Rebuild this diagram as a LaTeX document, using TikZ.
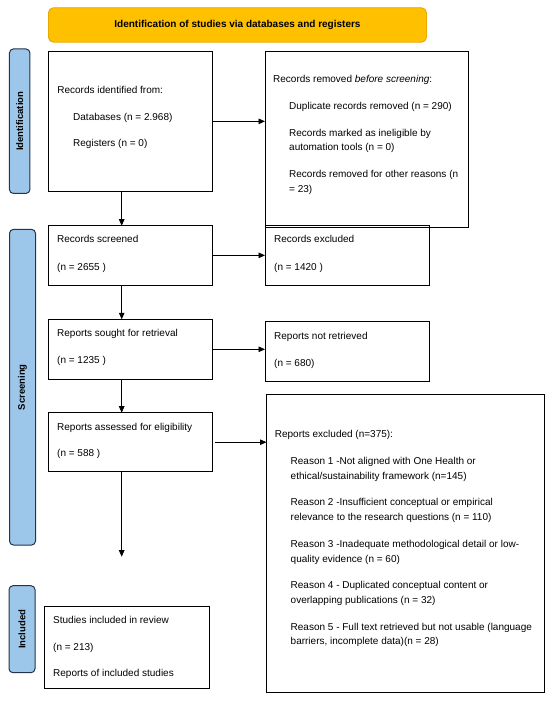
\documentclass[tikz,border=0pt]{standalone}
\usepackage{fontspec}
\setmainfont{Liberation Sans}
\usetikzlibrary{arrows.meta}
\definecolor{bannerfill}{HTML}{FFC000}
\definecolor{bannerdraw}{HTML}{E8A900}
\definecolor{sidefill}{HTML}{9CC7EA}
\definecolor{sidedraw}{HTML}{25344A}
\begin{document}
\begin{tikzpicture}[x=1pt,y=-1pt,
  box/.style={draw=black, line width=0.9pt, anchor=north west, inner sep=0pt, outer sep=0pt},
  txt/.style={anchor=base west, inner sep=0pt, align=left, font=\fontsize{10}{14.7}\selectfont},
  arr/.style={-{Triangle[length=6.5pt,width=5.5pt]}, line width=0.8pt},
  side/.style={draw=sidedraw, fill=sidefill, rounded corners=4pt, line width=1pt, rotate=90, inner sep=0pt, font=\bfseries\fontsize{9.5}{11}\selectfont}]
\useasboundingbox (0,0) rectangle (550,701);
\fill[white] (0,0) rectangle (550,701);

% banner
\node[draw=bannerdraw, fill=bannerfill, rounded corners=5pt, line width=0.9pt, anchor=north west, minimum width=378pt, minimum height=34.5pt, inner sep=0pt, font=\bfseries\fontsize{10}{12}\selectfont] (banner) at (48,7.3) {Identification of studies via databases and registers};

% side labels
\node[side, minimum width=144.5pt, minimum height=20.5pt] (sideid) at (19.7,121.2) {Identification};
\node[side, minimum width=315.7pt, minimum height=26pt] (sidescr) at (22.5,387.2) {Screening};
\node[side, minimum width=87pt, minimum height=26pt] (sideinc) at (22,629.2) {Included};

% boxes
\node[box, minimum width=164.7pt, minimum height=140.7pt] (idbox) at (48,51) {};
\node[box, minimum width=203pt, minimum height=175.5pt] (removed) at (265,51.5) {};
\node[box, minimum width=164.7pt, minimum height=59.3pt] (screened) at (48,225.7) {};
\node[box, minimum width=164pt, minimum height=59.3pt] (excluded) at (265,225.7) {};
\node[box, minimum width=164.7pt, minimum height=60pt] (sought) at (48,319.3) {};
\node[box, minimum width=164pt, minimum height=59.3pt] (notretr) at (265,321.7) {};
\node[box, minimum width=164.7pt, minimum height=59pt] (assessed) at (48,412.7) {};
\node[box, minimum width=277.5pt, minimum height=298pt] (repexcl) at (266.5,394) {};
\node[box, minimum width=165pt, minimum height=82pt] (studies) at (44,606.7) {};

% texts (multi-line nodes are placed by the baseline of their last line)
\node[txt] (t1) at (57.2,93.5) {Records identified from:};
\node[txt] (t2) at (73,120.2) {Databases (n = 2.968)};
\node[txt] (t3) at (73,146.5) {Registers (n = 0)};
\node[txt] (t4) at (273,82.5) {Records removed \textit{before screening}:};
\node[txt] (t5) at (289,109.5) {Duplicate records removed (n = 290)};
\node[txt] (t6) at (289,150.9) {Records marked as ineligible by\\automation tools (n = 0)};
\node[txt] (t7) at (289,192.2) {Records removed for other reasons (n\\= 23)};
\node[txt] (t8) at (57,242.5) {Records screened};
\node[txt] (t9) at (57,270.2) {(n = 2655 )};
\node[txt] (t10) at (274,242.5) {Records excluded};
\node[txt] (t11) at (274,270.5) {(n = 1420 )};
\node[txt] (t12) at (57,336.8) {Reports sought for retrieval};
\node[txt] (t13) at (57,363.5) {(n = 1235 )};
\node[txt] (t14) at (274,339.5) {Reports not retrieved};
\node[txt] (t15) at (274,366.2) {(n = 680)};
\node[txt] (t16) at (57,430.2) {Reports assessed for eligibility};
\node[txt] (t17) at (57,456.2) {(n = 588 )};
\node[txt] (t18) at (274.7,437.8) {Reports excluded (n=375):};
\node[txt] (r1) at (290.5,479.2) {Reason 1 -Not aligned with One Health or\\ethical/sustainability framework (n=145)};
\node[txt] (r2) at (290.5,520.5) {Reason 2 -Insufficient conceptual or empirical\\relevance to the research questions (n = 110)};
\node[txt] (r3) at (290.5,562.2) {Reason 3 -Inadequate methodological detail or low-\\quality evidence (n = 60)};
\node[txt] (r4) at (290.5,603.2) {Reason 4 - Duplicated conceptual content or\\overlapping publications (n = 32)};
\node[txt] (r5) at (290.5,644.9) {Reason 5 - Full text retrieved but not usable (language\\barriers, incomplete data)(n = 28)};
\node[txt] (t19) at (53,623.5) {Studies included in review};
\node[txt] (t20) at (53,650.8) {(n = 213)};
\node[txt] (t21) at (53,676.8) {Reports of included studies};

% connectors
\coordinate (ax) at (121.7,0);
\coordinate (endpt) at (121.7,556.7);
\draw[arr] (idbox.south -| ax) -- (screened.north -| ax);
\draw[arr] (screened.south -| ax) -- (sought.north -| ax);
\draw[arr] (sought.south -| ax) -- (assessed.north -| ax);
\draw[arr] (assessed.south -| ax) -- (endpt);
\draw[arr] (idbox.east) -- (idbox.east -| removed.west);
\draw[arr] (screened.east) -- (screened.east -| excluded.west);
\draw[arr] (sought.east) -- (sought.east -| notretr.west);
\draw[arr] ([xshift=2pt]assessed.east) -- (assessed.east -| repexcl.west);
\end{tikzpicture}
\end{document}
